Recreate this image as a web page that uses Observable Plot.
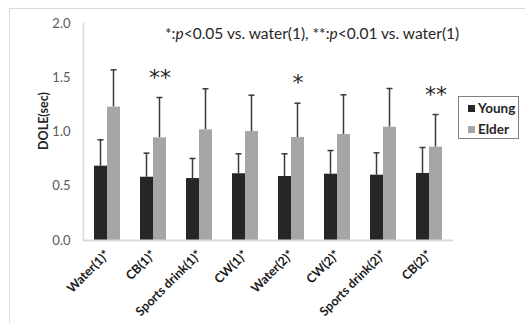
<!DOCTYPE html>
<html><head><meta charset="utf-8">
<script src="https://cdn.jsdelivr.net/npm/d3@7"></script>
<script src="https://cdn.jsdelivr.net/npm/@observablehq/plot@0.6"></script>
<style>
body{margin:0;background:#fff;font-family:Lato,"Open Sans",sans-serif;}
#wrap{position:relative;width:525px;height:323px;overflow:hidden;}
#border{position:absolute;left:9px;top:8px;width:600px;height:400px;border:1px solid #d9d9d9;box-sizing:border-box;}
#chart{position:absolute;left:0;top:0;}
#note{position:absolute;left:165px;top:24px;font-size:15.5px;color:#262626;white-space:nowrap;}
#ylab{position:absolute;left:43px;top:121px;transform:translate(-50%,-50%) rotate(-90deg);font-size:12.5px;font-weight:bold;color:#262626;white-space:nowrap;}
#legend{position:absolute;left:458px;top:96px;width:61px;height:43px;border:1px solid #808080;box-sizing:border-box;font-size:13.5px;font-weight:bold;color:#262626;}
#legend .row{position:absolute;left:9px;display:flex;align-items:center;white-space:nowrap;}
#legend .sw{width:7px;height:7px;margin-right:3px;}
</style></head>
<body>
<div id="wrap">
  <div id="border"></div>
  <div id="chart"></div>
  <div id="note"></div>
  <div id="ylab"></div>
  <div id="legend"></div>
</div>
<script>
const categories = ["Water(1)*","CB(1)*","Sports drink(1)*","CW(1)*","Water(2)*","CW(2)*","Sports drink(2)*","CB(2)*"];
const series = ["Young","Elder"];
const colors = ["#262626","#a6a6a6"];
const youngMean = [0.685,0.583,0.571,0.615,0.590,0.611,0.602,0.618];
const youngSD   = [0.243,0.222,0.185,0.184,0.209,0.218,0.206,0.239];
const elderMean = [1.229,0.946,1.020,1.005,0.949,0.977,1.044,0.860];
const elderSD   = [0.344,0.372,0.378,0.334,0.316,0.366,0.357,0.301];
const significance = ["","**","","","*","","","**"];
const yTicks = [0,0.5,1.0,1.5,2.0];
const yLabel = "DOLE(sec)";
const noteHTML = "*:<i>p</i>&lt;0.05 vs. water(1), **:<i>p</i>&lt;0.01 vs. water(1)";

const rows = [];
categories.forEach((c,i)=>{
  rows.push({cat:c, s:"Young", v:youngMean[i], top:youngMean[i]+youngSD[i]});
  rows.push({cat:c, s:"Elder", v:elderMean[i], top:elderMean[i]+elderSD[i]});
});
const young = rows.filter(d=>d.s==="Young");
const elder = rows.filter(d=>d.s==="Elder");
const sig = categories.map((c,i)=>({cat:c, label:significance[i], top:elderMean[i]+elderSD[i]})).filter(d=>d.label);

const half = 13; // px half band
const errStroke = "#3a3a3a";
const plot = Plot.plot({
  width:525, height:323,
  marginLeft:83, marginRight:72, marginTop:23, marginBottom:83,
  style:{fontFamily:"Lato, 'Open Sans', sans-serif", background:"transparent"},
  x:{domain:categories, paddingInner:0.44, paddingOuter:0.216, axis:null},
  y:{domain:[0,2], axis:null},
  marks:[
    Plot.frame({anchor:"left", stroke:"#d9d9d9", strokeWidth:1.5}),
    Plot.barY(young, {x:"cat", y1:"v", y2:"top", fill:errStroke, insetLeft:5.75, insetRight:18.75}),
    Plot.barY(elder, {x:"cat", y1:"v", y2:"top", fill:errStroke, insetLeft:18.75, insetRight:5.75}),
    Plot.tickY(young, {x:"cat", y:"top", stroke:errStroke, strokeWidth:1.5, insetLeft:3.5, insetRight:16.5}),
    Plot.tickY(elder, {x:"cat", y:"top", stroke:errStroke, strokeWidth:1.5, insetLeft:16.5, insetRight:3.5}),
    Plot.barY(young, {x:"cat", y:"v", fill:colors[0], insetRight:half}),
    Plot.barY(elder, {x:"cat", y:"v", fill:colors[1], insetLeft:half}),
    Plot.ruleY([0], {stroke:"#d9d9d9", strokeWidth:2}),
    Plot.text(sig, {x:"cat", y:"top", text:"label", dx:6.5, dy:-20, fontSize:22, fontFamily:"'DejaVu Sans', sans-serif", fill:"#262626"}),
    Plot.axisY({ticks:yTicks, tickFormat:d3.format(".1f"), tickSize:0, tickPadding:13, color:"#595959", fontSize:13, label:null}),
    Plot.axisX({tickRotate:-45, tickSize:0, tickPadding:12, fontSize:12.5, fontWeight:"bold", color:"#1a1a1a", label:null})
  ]
});
document.getElementById("chart").appendChild(plot);
document.getElementById("note").innerHTML = noteHTML;
document.getElementById("ylab").textContent = yLabel;
const lg = document.getElementById("legend");
series.forEach((s,i)=>{
  const r = document.createElement("div");
  r.className="row";
  r.style.top = (i===0 ? 3 : 24) + "px";
  r.innerHTML = `<span class="sw" style="background:${colors[i]}"></span><span>${s}</span>`;
  lg.appendChild(r);
});
</script>
</body></html>
